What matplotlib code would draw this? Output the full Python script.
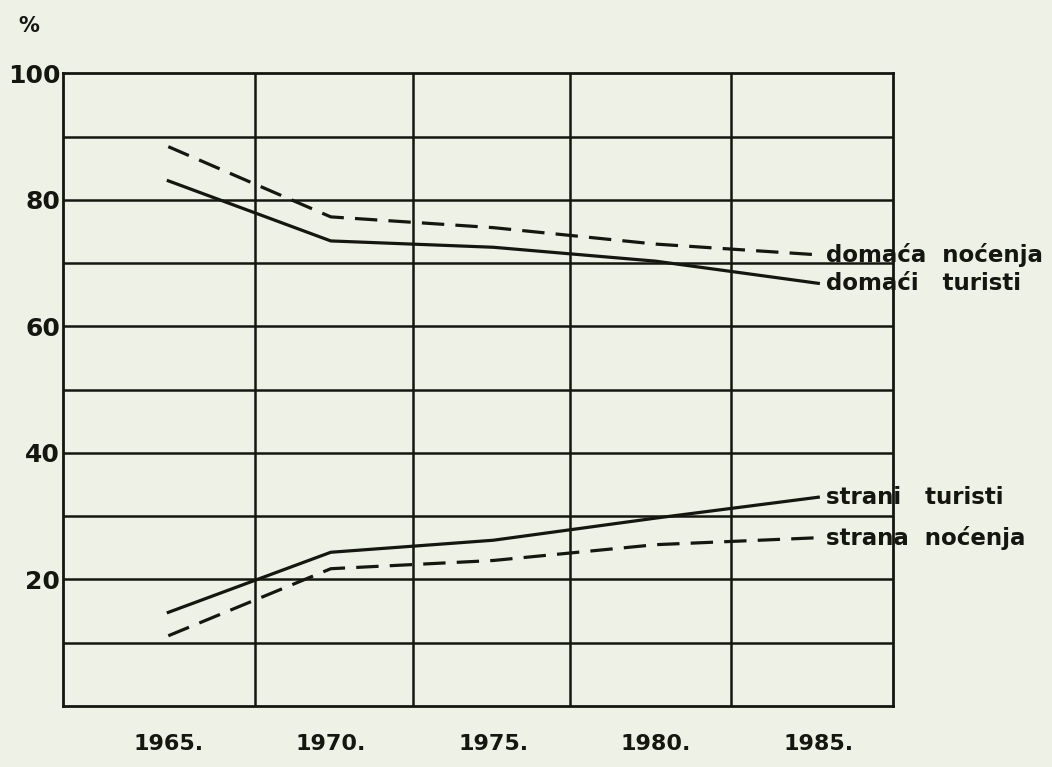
import matplotlib
matplotlib.use("Agg")
import matplotlib.pyplot as plt

# shares (%)
years = [1965, 1970, 1975, 1980, 1985]
domaca_nocenja = [88.4, 77.3, 75.6, 73.0, 71.3]
domaci_turisti = [83.0, 73.5, 72.5, 70.3, 66.8]
strani_turisti = [14.8, 24.3, 26.2, 29.7, 33.0]
strana_nocenja = [11.1, 21.7, 23.0, 25.5, 26.6]

year_labels = ["1965.", "1970.", "1975.", "1980.", "1985."]
y_ticks = [20, 40, 60, 80, 100]

paper = "#eef1e6"
ink = "#15160f"

fig = plt.figure(figsize=(10.52, 7.67), dpi=100, facecolor=paper)
ax = fig.add_axes([0.0599, 0.0795, 0.789, 0.825])
ax.set_facecolor(paper)

ax.set_xlim(1961.76, 1987.30)
ax.set_ylim(0, 100)

# hand drawn grid
for v in range(10, 100, 10):
    ax.axhline(v, color=ink, lw=1.8, zorder=1)
for x in [1967.67, 1972.53, 1977.36, 1982.31]:
    ax.axvline(x, color=ink, lw=1.8, zorder=1)
for s in ax.spines.values():
    s.set_linewidth(2.0)
    s.set_color(ink)

dash = (0, (7, 3.5))
ax.plot(years, domaca_nocenja, color=ink, lw=2.3, ls=dash, zorder=3)
ax.plot(years, domaci_turisti, color=ink, lw=2.3, zorder=3)
ax.plot(years, strani_turisti, color=ink, lw=2.3, zorder=3)
ax.plot(years, strana_nocenja, color=ink, lw=2.3, ls=dash, zorder=3)

labels = [("domaća  noćenja", domaca_nocenja[-1]),
          ("domaći   turisti", domaci_turisti[-1]),
          ("strani   turisti", strani_turisti[-1]),
          ("strana  noćenja", strana_nocenja[-1])]
for txt, val in labels:
    ax.text(years[-1] + 0.25, val, txt, fontsize=16.5, fontweight="bold",
            color=ink, va="center", ha="left", clip_on=False)

ax.set_yticks(y_ticks)
ax.set_yticklabels([str(t) for t in y_ticks], fontsize=18, fontweight="bold", color=ink)
ax.set_xticks(years)
ax.set_xticklabels(year_labels, fontsize=16, fontweight="bold", color=ink)
ax.tick_params(length=0, pad=2)
ax.tick_params(axis="x", pad=20)

fig.text(0.017, 0.958, "%", fontsize=15, fontweight="bold", color=ink)

fig.savefig("out.png", dpi=100, facecolor=paper)
